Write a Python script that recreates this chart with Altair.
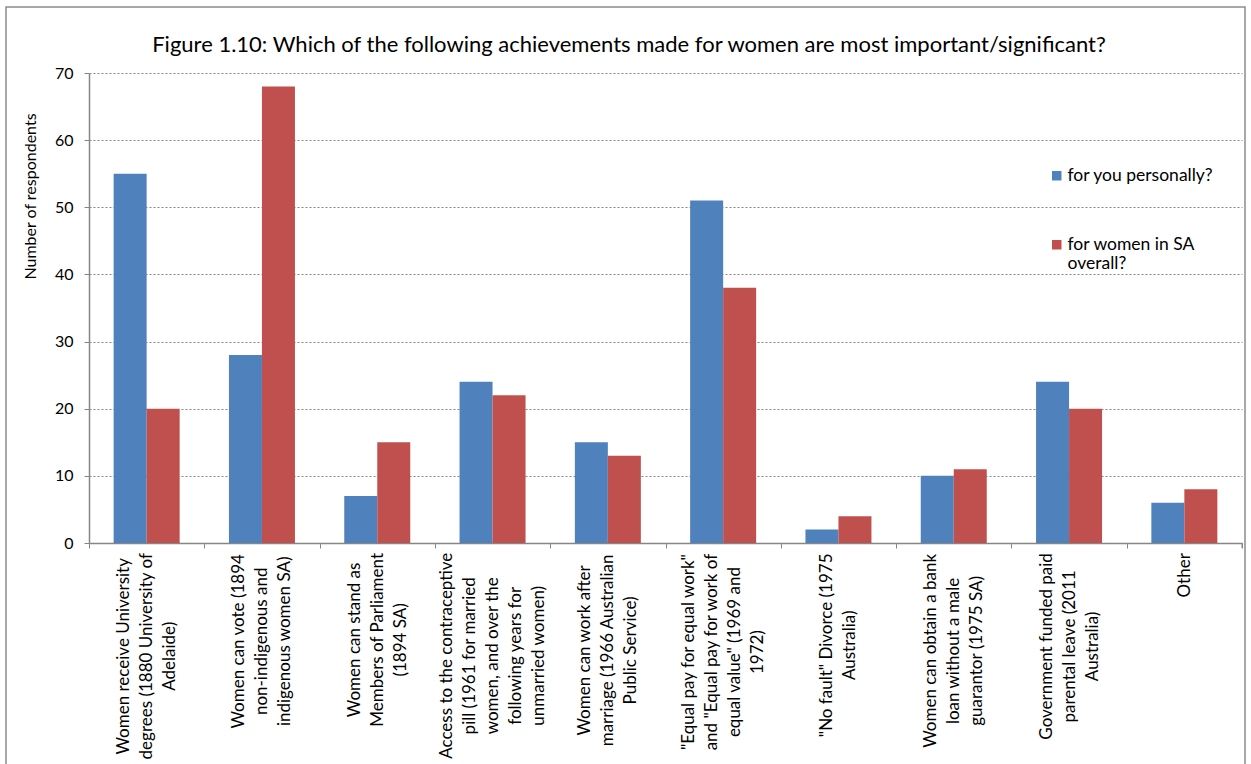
import json
import altair as alt
import pandas as pd

categories = [
    "Women receive University|degrees (1880 University of|Adelaide)",
    "Women can vote (1894|non-indigenous and|indigenous women SA)",
    "Women can stand as|Members of Parliament|(1894 SA)",
    "Access to the contraceptive|pill (1961 for married|women, and over the|following years for|unmarried women)",
    "Women can work after|marriage (1966 Australian|Public Service)",
    "\"Equal pay for equal work\"|and \"Equal pay for work of|equal value\" (1969 and|1972)",
    "\"No fault\" Divorce (1975|Australia)",
    "Women can obtain a bank|loan without a male|guarantor (1975 SA)",
    "Government funded paid|parental leave (2011|Australia)",
    "Other",
]
series = ["for you personally?", "for women in SA|overall?"]
personal = [55, 28, 7, 24, 15, 51, 2, 10, 24, 6]
overall = [20, 68, 15, 22, 13, 38, 4, 11, 20, 8]
colors = ["#4F81BD", "#C0504D"]
y_ticks = [0, 10, 20, 30, 40, 50, 60, 70]
title_text = "Figure 1.10: Which of the following achievements made for women are most important/significant?"

rows = []
for c, a, b in zip(categories, personal, overall):
    rows.append({"category": c, "series": series[0], "value": a})
    rows.append({"category": c, "series": series[1], "value": b})
df = pd.DataFrame(rows)

W, H = 1153, 470
GRAY = "#868686"
LABEL_SIZE = 17
LINE_H = 23

# rough Lato advance widths (em) used only to centre the wrapped axis labels
_w = {
    "a": .51, "b": .56, "c": .46, "d": .56, "e": .52, "f": .32, "g": .5, "h": .56,
    "i": .24, "j": .24, "k": .5, "l": .24, "m": .83, "n": .56, "o": .56, "p": .56,
    "q": .56, "r": .36, "s": .42, "t": .35, "u": .56, "v": .5, "w": .77, "x": .49,
    "y": .5, "z": .45, " ": .26, "(": .3, ")": .3, "\"": .37, ",": .22, ".": .22,
    "?": .42, "-": .33, "W": 1.0, "M": .86, "A": .68, "S": .5, "P": .58, "E": .55,
    "D": .73, "G": .7, "O": .78, "N": .75, "U": .72, "L": .46,
}


def text_width(s, size):
    return sum(_w.get(ch, .58 if ch.isdigit() else .6) for ch in s) * size


pad_cond, off_cond = [], []
for c in categories:
    lines = c.split("|")
    test = "datum.value === " + json.dumps(c)
    longest = max(text_width(t, LABEL_SIZE) for t in lines)
    pad_cond.append({"test": test, "value": round(5 + longest / 2, 1)})
    off_cond.append({"test": test, "value": -(len(lines) - 1) * LINE_H / 2})

bars = alt.Chart(df).mark_bar().encode(
    x=alt.X(
        "category:N",
        sort=categories,
        title=None,
        scale=alt.Scale(paddingInner=0, paddingOuter=0),
        axis=alt.Axis(
            tickBand="extent",
            labelAngle=270,
            labelAlign="center",
            labelBaseline="middle",
            labelExpr="split(datum.label, '|')",
            labelFontSize=LABEL_SIZE,
            labelLineHeight=LINE_H,
            labelLimit=600,
            labelPadding={"condition": pad_cond, "value": 5},
            labelOffset={"condition": off_cond, "value": 0},
            labelColor="black",
            labelOverlap=False,
            tickSize=5,
            tickColor=GRAY,
            domainColor=GRAY,
            domainWidth=1.5,
            grid=False,
        ),
    ),
    xOffset=alt.XOffset(
        "series:N", sort=series,
        scale=alt.Scale(paddingInner=0, paddingOuter=0.747),
    ),
    y=alt.Y(
        "value:Q",
        scale=alt.Scale(domain=[0, 70]),
        axis=alt.Axis(
            values=y_ticks,
            title="Number of respondents",
            titleFontSize=16,
            titleFontWeight="normal",
            titleColor="black",
            titleX=-59,
            titleY=123,
            titleBaseline="middle",
            labelFontSize=16,
            labelColor="black",
            labelPadding=11,
            tickSize=5,
            tickColor=GRAY,
            domainColor=GRAY,
            domainWidth=1.5,
            grid=True,
            gridColor=GRAY,
            gridDash=[2, 2],
        ),
    ),
    color=alt.Color(
        "series:N",
        sort=series,
        scale=alt.Scale(domain=series, range=colors),
        legend=alt.Legend(
            orient="none",
            legendX=959,
            legendY=94,
            title=None,
            symbolType="square",
            symbolSize=90,
            symbolStrokeWidth=0,
            labelFontSize=17.5,
            labelColor="black",
            labelOffset=2,
            labelLimit=250,
            labelExpr="split(datum.label, '|')",
            rowPadding=50,
        ),
    ),
)

frame = alt.Chart(pd.DataFrame({"k": [0]})).mark_rect(
    fill=None, stroke="#8c8c8c", strokeWidth=1.5
).encode(
    x=alt.value(-83), x2=alt.value(1156), y=alt.value(-66), y2=alt.value(800)
)

end_tick = alt.Chart(pd.DataFrame({"k": [0]})).mark_rule(color=GRAY).encode(
    x=alt.value(W), y=alt.value(H), y2=alt.value(H + 5)
)

title = alt.Chart(pd.DataFrame({"t": [title_text]})).mark_text(
    fontSize=22, align="center", baseline="alphabetic", color="black"
).encode(text="t:N", x=alt.value(540), y=alt.value(-21))

chart = alt.layer(frame, bars, end_tick, title).properties(
    width=W,
    height=H,
    padding={"left": 89, "top": 73, "right": 9, "bottom": 221},
    autosize=alt.AutoSizeParams(type="none"),
).configure(font="Lato").configure_view(stroke=None)

chart.save("out.html", embed_options={"renderer": "svg", "actions": False})
